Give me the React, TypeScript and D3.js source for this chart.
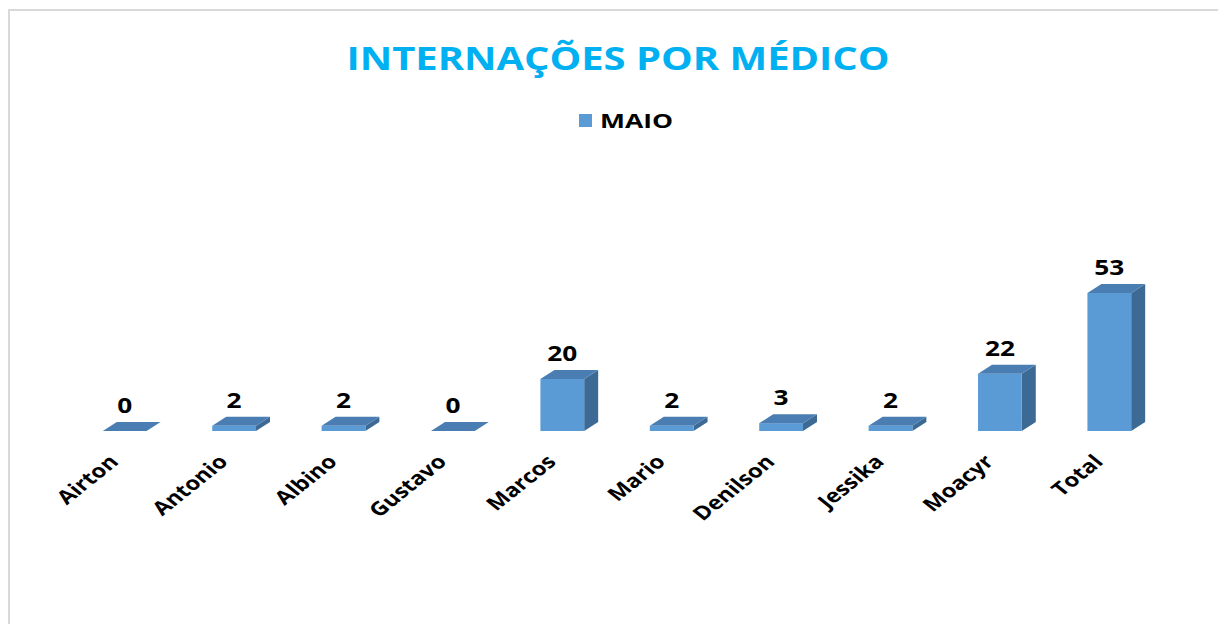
import React, { useEffect, useRef } from "react";
import * as d3 from "d3";

const categories = ["Airton", "Antonio", "Albino", "Gustavo", "Marcos", "Mario", "Denilson", "Jessika", "Moacyr", "Total"];
const maio = [0, 2, 2, 0, 20, 2, 3, 2, 22, 53];
const seriesName = "MAIO";
const title = "INTERNAÇÕES POR MÉDICO";

const W = 1218;
const H = 624;

export default function App() {
  const ref = useRef<SVGSVGElement | null>(null);

  useEffect(() => {
    const svg = d3.select(ref.current);
    svg.selectAll("*").remove();

    const floorY = 431;
    const depthX = 14;
    const depthY = 9;
    const stretch = 1.25; // the original picture is a bit wider than tall
    const font = "'Open Sans', 'DejaVu Sans', sans-serif";

    // x scale - one band per doctor
    const x = d3.scaleBand<string>().domain(categories).range([70, 1164]).padding(0);
    // y scale
    const y = d3.scaleLinear().domain([0, 53]).range([floorY, floorY - 138]);

    const barW = x.bandwidth() * 0.4;

    // background + border
    svg.append("rect").attr("width", W).attr("height", H).attr("fill", "#ffffff");
    svg
      .append("rect")
      .attr("x", 9)
      .attr("y", 10)
      .attr("width", 1400)
      .attr("height", 800)
      .attr("fill", "none")
      .attr("stroke", "#d9d9d9")
      .attr("stroke-width", 2);

    // title
    svg
      .append("text")
      .attr("x", 618)
      .attr("y", 70)
      .attr("text-anchor", "middle")
      .attr("font-family", font)
      .attr("font-weight", "bold")
      .attr("font-size", 32)
      .attr("fill", "#00b0f0")
      .attr("textLength", 543)
      .attr("lengthAdjust", "spacingAndGlyphs")
      .text(title);

    // legend
    svg.append("rect").attr("x", 579).attr("y", 114).attr("width", 13).attr("height", 13).attr("fill", "#5b9bd5");
    svg
      .append("text")
      .attr("x", 600)
      .attr("y", 128)
      .attr("font-family", font)
      .attr("font-weight", "bold")
      .attr("font-size", 19)
      .attr("fill", "#000")
      .attr("textLength", 73)
      .attr("lengthAdjust", "spacingAndGlyphs")
      .text(seriesName);

    const data = categories.map((c, i) => ({ name: c, value: maio[i] }));

    const bars = svg
      .selectAll("g.bar")
      .data(data)
      .enter()
      .append("g")
      .attr("class", "bar");

    const left = (d: { name: string }) => (x(d.name) as number) + (x.bandwidth() - barW) / 2;

    // side face
    bars
      .append("path")
      .attr("fill", "#3d6a95")
      .attr("d", (d) => {
        const x1 = left(d) + barW;
        const t = y(d.value);
        return `M${x1},${floorY}L${x1 + depthX},${floorY - depthY}L${x1 + depthX},${t - depthY}L${x1},${t}Z`;
      });

    // front face
    bars
      .append("rect")
      .attr("x", (d) => left(d))
      .attr("y", (d) => y(d.value))
      .attr("width", barW)
      .attr("height", (d) => floorY - y(d.value))
      .attr("fill", "#5b9bd5");

    // top face
    bars
      .append("path")
      .attr("fill", "#4a7eb3")
      .attr("d", (d) => {
        const x0 = left(d);
        const t = y(d.value);
        return `M${x0},${t}L${x0 + barW},${t}L${x0 + barW + depthX},${t - depthY}L${x0 + depthX},${t - depthY}Z`;
      });

    // value labels
    bars
      .append("text")
      .attr("transform", (d) => `translate(${left(d) + barW / 2},${y(d.value) - depthY - 9}) scale(${stretch},1)`)
      .attr("text-anchor", "middle")
      .attr("font-family", font)
      .attr("font-weight", "bold")
      .attr("font-size", 21)
      .attr("fill", "#000")
      .text((d) => d.value);

    // category labels, rotated
    svg
      .selectAll("text.cat")
      .data(categories)
      .enter()
      .append("text")
      .attr("class", "cat")
      .attr(
        "transform",
        (d) => `translate(${(x(d) as number) + x.bandwidth() / 2 - 5},${463}) scale(${stretch},1) rotate(-45)`
      )
      .attr("text-anchor", "end")
      .attr("font-family", font)
      .attr("font-weight", "bold")
      .attr("font-size", 19)
      .attr("fill", "#000")
      .text((d) => d);
  }, []);

  return (
    <svg
      ref={ref}
      width={W}
      height={H}
      style={{ position: "absolute", left: 0, top: 0, display: "block" }}
    />
  );
}
